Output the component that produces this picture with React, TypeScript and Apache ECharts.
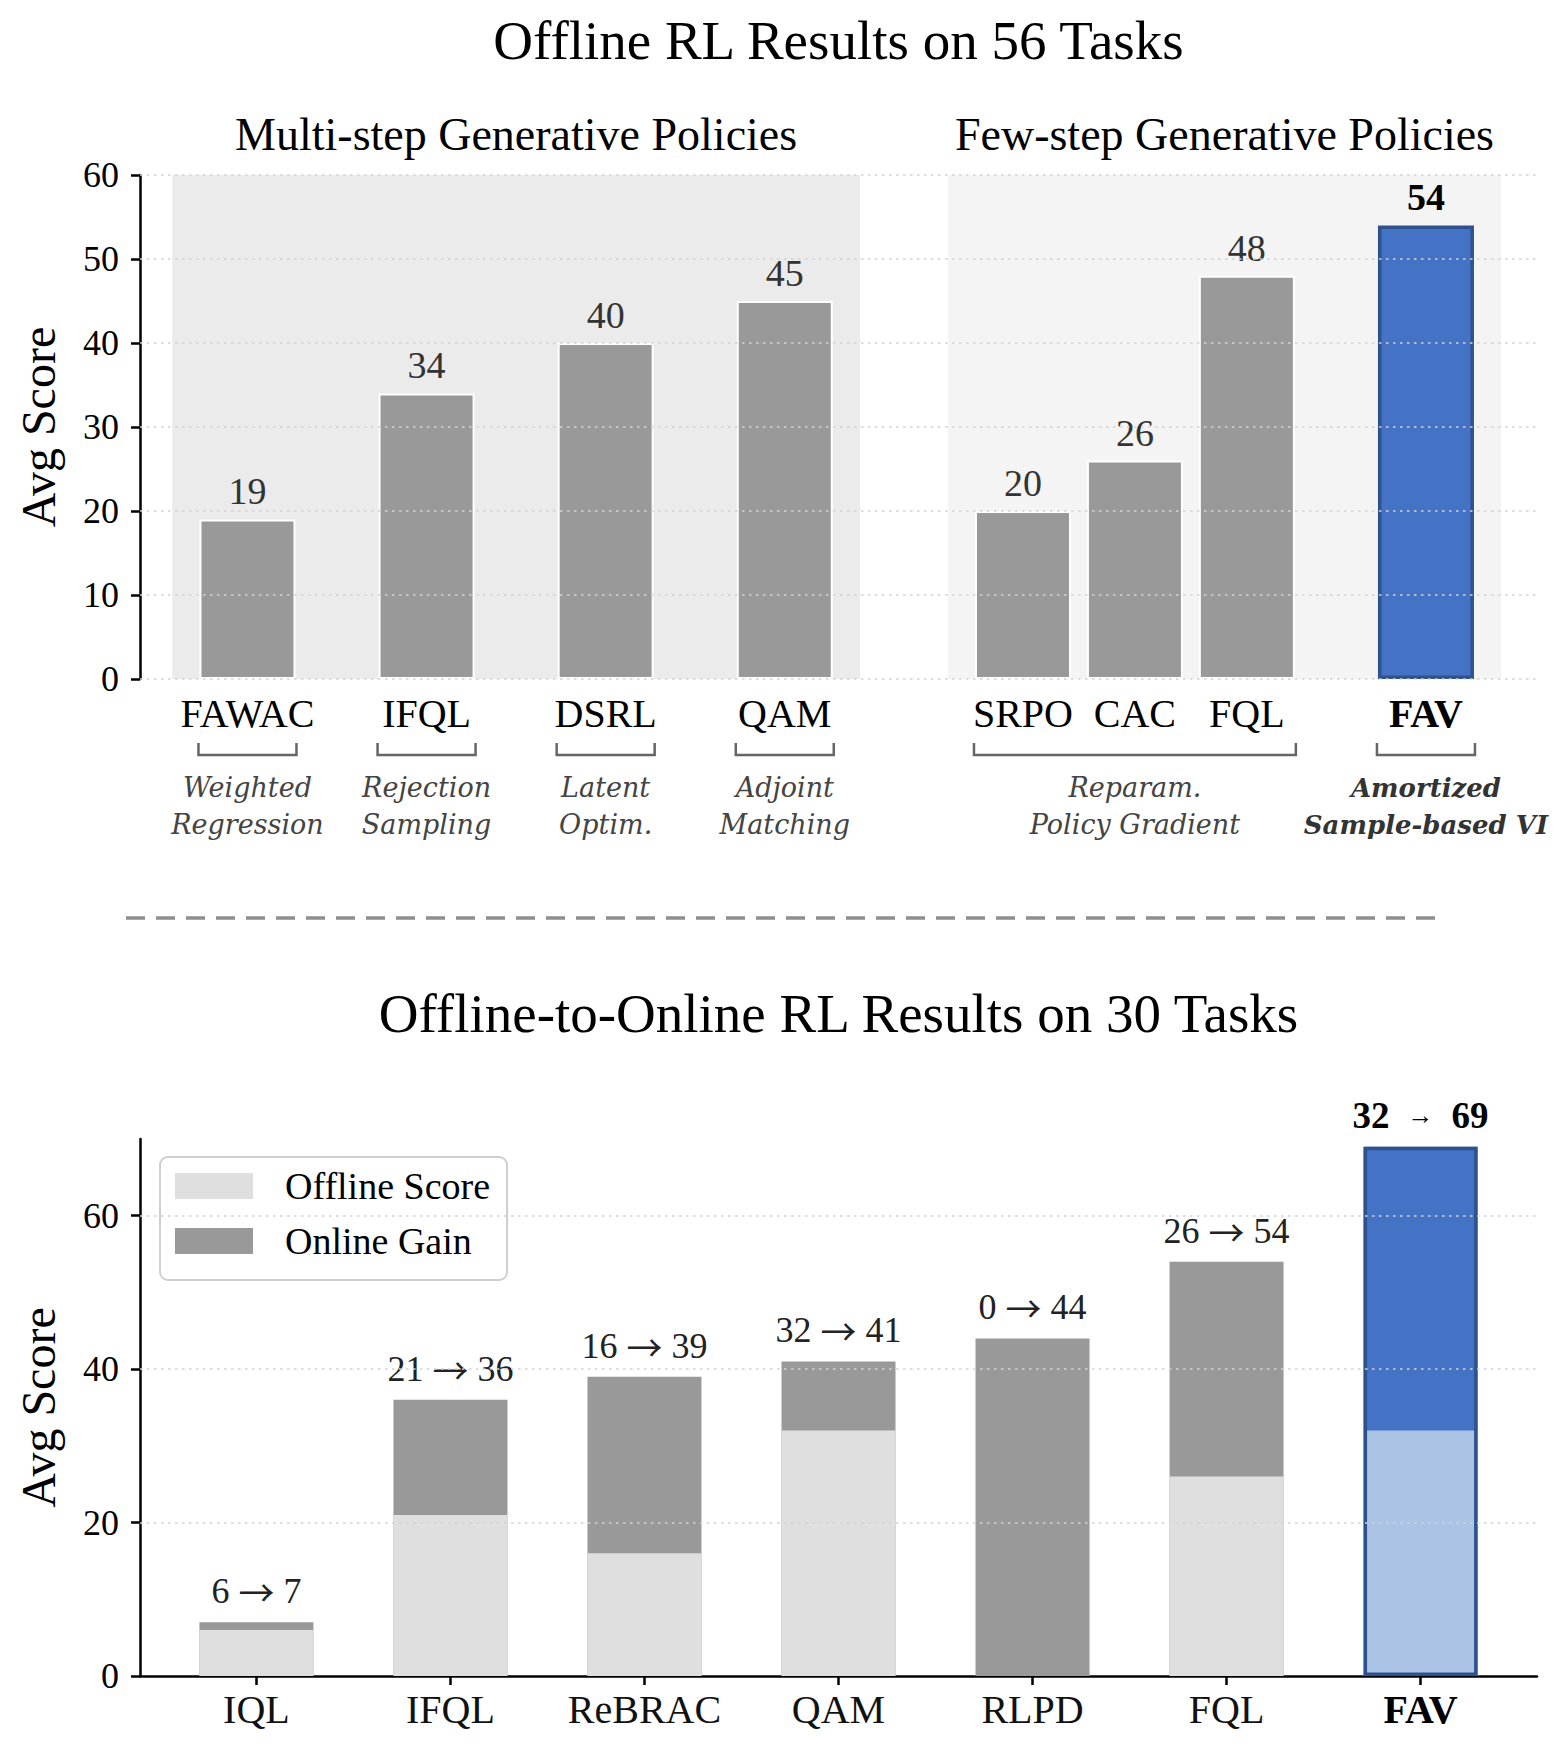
import React, { useEffect, useRef } from 'react';
import * as echarts from 'echarts';

const SERIF = '"Liberation Serif", "Times New Roman", Times, serif';
const ITALIC = '"DejaVu Serif", serif';
const ARROW = '"Noto Sans CJK JP", "DejaVu Sans", sans-serif';

// Offline RL results (56 tasks)
const offlineMethods = ['FAWAC', 'IFQL', 'DSRL', 'QAM', 'SRPO', 'CAC', 'FQL', 'FAV'];
const offlineScores = [19, 34, 40, 45, 20, 26, 48, 54];
const offlineX = [0, 1, 2, 3, 4.33, 4.955, 5.58, 6.58];
const offlineTicks = [0, 10, 20, 30, 40, 50, 60];

const panelTitles = ['Multi-step Generative Policies', 'Few-step Generative Policies'];
const panelMembers = [
  [0, 1, 2, 3],
  [4, 5, 6, 7],
];

const familyLines = [
  ['Weighted', 'Regression'],
  ['Rejection', 'Sampling'],
  ['Latent', 'Optim.'],
  ['Adjoint', 'Matching'],
  ['Reparam.', 'Policy Gradient'],
  ['Amortized', 'Sample-based VI'],
];
const familyMembers = [[0], [1], [2], [3], [4, 5, 6], [7]];

// Offline-to-online RL results (30 tasks)
const o2oMethods = ['IQL', 'IFQL', 'ReBRAC', 'QAM', 'RLPD', 'FQL', 'FAV'];
const o2oOffline = [6, 21, 16, 32, 0, 26, 32];
const o2oFinal = [7, 36, 39, 41, 44, 54, 69];
const o2oTicks = [0, 20, 40, 60];

const OURS = 'FAV';

// layout
const W = 1565;
const H = 1757;
const PLOT_L = 140;
const PLOT_W = 1397;
const TOP_T = 175;
const TOP_H = 504;
const BOT_T = 1139;
const BOT_H = 537;
const TOP_BAR = 96;
const BOT_BAR = 114;
const SHADE_PAD = 0.42;

const GRAY = '#999999';
const LIGHT = '#dfdfdf';
const BLUE = '#4472c4';
const BLUE_EDGE = '#2f528f';
const BLUE_LIGHT = '#abc4e5';
const SHADES = ['#ebebeb', '#f4f4f4'];
const GRID_LINE = { color: '#d2d2d2', type: [2.5, 4.5], width: 1.6 };

function buildOption() {
  const shadeSpans = panelMembers.map((m) => [
    offlineX[m[0]] - SHADE_PAD,
    offlineX[m[m.length - 1]] + SHADE_PAD,
  ]);

  const axisStroke = { color: '#000', width: 2.5 };

  return {
    animation: false,
    backgroundColor: '#fff',
    grid: [
      { left: PLOT_L, top: TOP_T, width: PLOT_W, height: TOP_H },
      { left: PLOT_L, top: BOT_T, width: PLOT_W, height: BOT_H },
    ],
    legend: {
      data: ['Offline Score', 'Online Gain'],
      orient: 'vertical',
      left: 160,
      top: 1157,
      icon: 'rect',
      itemWidth: 78,
      itemHeight: 26,
      itemGap: 17,
      padding: [10, 17, 20, 15],
      borderColor: '#cfcfcf',
      borderWidth: 2,
      borderRadius: 8,
      backgroundColor: '#fff',
      selectedMode: false,
      textStyle: {
        fontFamily: SERIF,
        fontSize: 38,
        color: '#000',
        lineHeight: 30,
        padding: [0, 0, 0, 27],
      },
    },
    xAxis: [
      { gridIndex: 0, type: 'value', min: -0.6, max: 7.2, show: false },
      {
        gridIndex: 1,
        type: 'value',
        min: -0.6,
        max: 6.6,
        axisLine: { show: true, onZero: false, lineStyle: axisStroke },
        axisTick: {
          show: true,
          length: 9,
          customValues: o2oMethods.map((_, i) => i),
          lineStyle: axisStroke,
        },
        axisLabel: {
          show: true,
          customValues: o2oMethods.map((_, i) => i),
          margin: 13,
          fontFamily: SERIF,
          fontSize: 40,
          color: '#111',
          formatter: (v: number) => {
            const name = o2oMethods[Math.round(v)] ?? '';
            return name === OURS ? `{b|${name}}` : name;
          },
          rich: {
            b: { fontFamily: SERIF, fontSize: 40, fontWeight: 'bold', color: '#000' },
          },
        },
        splitLine: { show: false },
      },
    ],
    yAxis: [
      {
        gridIndex: 0,
        type: 'value',
        min: 0,
        max: 60,
        interval: 10,
        axisLine: { show: true, onZero: false, lineStyle: axisStroke },
        axisTick: { show: true, length: 9, lineStyle: axisStroke },
        axisLabel: { fontFamily: SERIF, fontSize: 36, color: '#000', margin: 21 },
        splitLine: { show: false },
      },
      {
        gridIndex: 1,
        type: 'value',
        min: 0,
        max: 70,
        interval: 10,
        axisLine: { show: true, onZero: false, lineStyle: axisStroke },
        axisTick: { show: true, length: 9, customValues: o2oTicks, lineStyle: axisStroke },
        axisLabel: {
          fontFamily: SERIF,
          fontSize: 36,
          color: '#000',
          margin: 21,
          customValues: o2oTicks,
        },
        splitLine: { show: false },
      },
    ],
    series: [
      // shaded panels behind the offline bars
      {
        type: 'custom',
        xAxisIndex: 0,
        yAxisIndex: 0,
        z: 0,
        silent: true,
        data: shadeSpans,
        encode: { x: [0, 1] },
        renderItem: (params: any, api: any) => {
          const a = api.coord([api.value(0), 60]);
          const b = api.coord([api.value(1), 0]);
          return {
            type: 'rect',
            shape: { x: a[0], y: a[1], width: b[0] - a[0], height: b[1] - a[1] },
            style: { fill: SHADES[params.dataIndex] },
          };
        },
      },
      {
        type: 'line',
        xAxisIndex: 0,
        yAxisIndex: 0,
        data: [],
        z: 1,
        silent: true,
        markLine: {
          silent: true,
          symbol: ['none', 'none'],
          label: { show: false },
          lineStyle: GRID_LINE,
          data: offlineTicks.map((v) => ({ yAxis: v })),
        },
      },
      {
        type: 'bar',
        name: 'Avg Score',
        xAxisIndex: 0,
        yAxisIndex: 0,
        barWidth: TOP_BAR,
        z: 2,
        itemStyle: { color: GRAY, borderColor: '#fff', borderWidth: 2 },
        label: {
          show: true,
          position: 'top',
          distance: 9,
          fontFamily: SERIF,
          fontSize: 38,
          color: '#333',
          formatter: (p: any) => String(p.value[1]),
        },
        data: offlineMethods.map((m, i) => ({
          value: [offlineX[i], offlineScores[i]],
          itemStyle:
            m === OURS ? { color: BLUE, borderColor: BLUE_EDGE, borderWidth: 3.5 } : undefined,
          label: m === OURS ? { fontWeight: 'bold', color: '#000' } : undefined,
        })),
      },
      // offline-to-online panel
      {
        type: 'line',
        xAxisIndex: 1,
        yAxisIndex: 1,
        data: [],
        z: 1,
        silent: true,
        markLine: {
          silent: true,
          symbol: ['none', 'none'],
          label: { show: false },
          lineStyle: GRID_LINE,
          data: o2oTicks.filter((v) => v > 0).map((v) => ({ yAxis: v })),
        },
      },
      {
        type: 'bar',
        name: 'Online Gain',
        xAxisIndex: 1,
        yAxisIndex: 1,
        barWidth: BOT_BAR,
        barGap: '-100%',
        z: 2,
        itemStyle: { color: GRAY },
        data: o2oFinal.map((v, i) => ({
          value: [i, v],
          itemStyle: o2oMethods[i] === OURS ? { color: BLUE } : undefined,
        })),
      },
      {
        type: 'bar',
        name: 'Offline Score',
        xAxisIndex: 1,
        yAxisIndex: 1,
        barWidth: BOT_BAR,
        barGap: '-100%',
        z: 2,
        itemStyle: { color: LIGHT },
        data: o2oOffline.map((v, i) => ({
          value: [i, v],
          itemStyle: o2oMethods[i] === OURS ? { color: BLUE_LIGHT } : undefined,
        })),
      },
      {
        type: 'bar',
        name: 'outline',
        xAxisIndex: 1,
        yAxisIndex: 1,
        barWidth: BOT_BAR,
        barGap: '-100%',
        z: 3,
        silent: true,
        itemStyle: { color: 'rgba(0,0,0,0)' },
        label: {
          show: true,
          position: 'top',
          distance: 13,
          fontFamily: SERIF,
          fontSize: 36,
          color: '#222',
          formatter: (p: any) => {
            const i = p.dataIndex;
            if (o2oMethods[i] === OURS) {
              return `{b|${o2oOffline[i]}}  {a|→}  {b|${o2oFinal[i]}}`;
            }
            return `{t|${o2oOffline[i]}} {r|→} {t|${o2oFinal[i]}}`;
          },
          rich: {
            t: { fontFamily: SERIF, fontSize: 36, color: '#222' },
            r: { fontFamily: ARROW, fontSize: 36, color: '#222' },
            b: { fontFamily: SERIF, fontSize: 37, fontWeight: 'bold', color: '#000' },
            a: { fontFamily: SERIF, fontSize: 26, fontWeight: 'bold', color: '#000' },
          },
        },
        data: o2oFinal.map((v, i) => ({
          value: [i, v],
          itemStyle:
            o2oMethods[i] === OURS
              ? { color: 'rgba(0,0,0,0)', borderColor: BLUE_EDGE, borderWidth: 3.5 }
              : undefined,
        })),
      },
    ],
  };
}

function buildGraphic(chart: echarts.ECharts) {
  const px = (x: number) => chart.convertToPixel({ xAxisIndex: 0 }, x) as number;
  const half = TOP_BAR / 2 + 1;
  const centerX = PLOT_L + PLOT_W / 2;
  const els: any[] = [];

  const text = (t: string, x: number, y: number, style: any, extra: any = {}) =>
    els.push({
      type: 'text',
      x,
      y,
      silent: true,
      ...extra,
      style: {
        text: t,
        fontFamily: SERIF,
        fill: '#000',
        align: 'center',
        verticalAlign: 'middle',
        ...style,
      },
    });

  text('Offline RL Results on 56 Tasks', centerX, 40, { fontSize: 55 });
  text('Offline-to-Online RL Results on 30 Tasks', centerX, 1013, { fontSize: 55 });

  panelTitles.forEach((t, k) => {
    const m = panelMembers[k];
    const cx = (px(offlineX[m[0]] - SHADE_PAD) + px(offlineX[m[m.length - 1]] + SHADE_PAD)) / 2;
    text(t, cx, 134, { fontSize: 46 });
  });

  text('Avg Score', 38, TOP_T + TOP_H / 2, { fontSize: 48 }, { rotation: Math.PI / 2 });
  text('Avg Score', 38, BOT_T + BOT_H / 2, { fontSize: 48 }, { rotation: Math.PI / 2 });

  offlineMethods.forEach((m, i) => {
    text(m, px(offlineX[i]), 713, {
      fontSize: 40,
      fontWeight: m === OURS ? 'bold' : 'normal',
    });
  });

  familyMembers.forEach((m, k) => {
    const xl = px(offlineX[m[0]]) - half;
    const xr = px(offlineX[m[m.length - 1]]) + half;
    els.push({
      type: 'polyline',
      silent: true,
      shape: {
        points: [
          [xl, 743],
          [xl, 755],
          [xr, 755],
          [xr, 743],
        ],
      },
      style: { stroke: '#666', lineWidth: 2.5, fill: null },
    });
    const ours = m.some((i) => offlineMethods[i] === OURS);
    text(familyLines[k].join('\n'), (xl + xr) / 2, 806, {
      fontFamily: ITALIC,
      fontStyle: 'italic',
      fontWeight: ours ? 'bold' : 'normal',
      fontSize: ours ? 26 : 27,
      lineHeight: 37,
      fill: ours ? '#333' : '#444',
    });
  });

  els.push({
    type: 'line',
    silent: true,
    shape: { x1: 126, y1: 918, x2: 1438, y2: 918 },
    style: { stroke: '#8f8f8f', lineWidth: 3.5, lineDash: [19, 11] },
  });

  return els;
}

export default function App() {
  const ref = useRef<HTMLDivElement>(null);

  useEffect(() => {
    if (!ref.current) return;
    const chart = echarts.init(ref.current, undefined, { renderer: 'svg', width: W, height: H });
    chart.setOption(buildOption() as any);
    chart.setOption({ graphic: buildGraphic(chart) } as any);
    return () => chart.dispose();
  }, []);

  return (
    <div
      ref={ref}
      style={{ position: 'absolute', left: 0, top: 0, width: W, height: H, background: '#fff' }}
    />
  );
}
